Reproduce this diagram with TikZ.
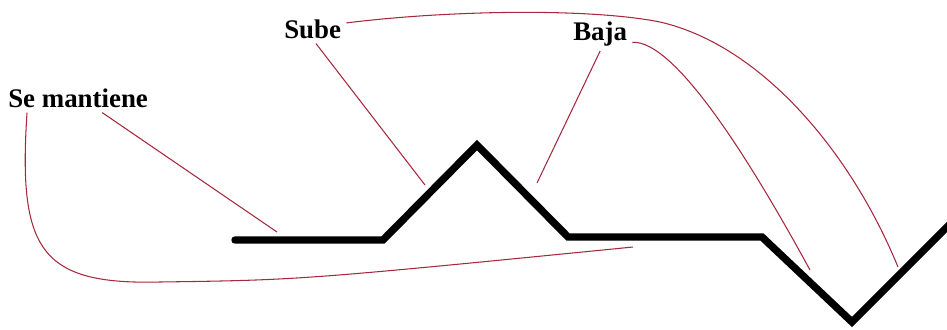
\documentclass[tikz,border=0pt]{standalone}
\usepackage{fontspec}
\setmainfont{Liberation Serif}
\usepackage{tikz}
\usetikzlibrary{calc}
\usepackage{xcolor}
\definecolor{callout}{RGB}{165,40,60}

\begin{document}
\begin{tikzpicture}[x=0.02cm, y=-0.02cm,
  trend/.style={line width=4.2pt, line join=miter, line cap=round},
  pointer/.style={callout, line width=0.6pt},
  tag/.style={inner sep=2.8pt, anchor=base west, font=\bfseries\fontsize{15.3}{17}\selectfont}]
  \useasboundingbox (0,0) rectangle (947,329);
  \clip (0,0) rectangle (947,329);

  \draw[trend] (235,240) -- (383,240) -- (477,145) -- (568,237) -- (762,237)
    -- (852,322) -- (960,214);

  \node[tag] (mant) at (3,107) {Se mantiene};
  \node[tag] (sube) at (279,38) {Sube};
  \node[tag] (baja) at (568,40) {Baja};

  \coordinate (flat1) at (277,232);
  \coordinate (up1) at (425,185);
  \coordinate (down1) at (537,183);
  \coordinate (flat2) at (633,247);
  \coordinate (down2) at (810,270);
  \coordinate (up2) at (898,267);

  \draw[pointer] ($(mant.south west)!0.66!(mant.south east)$) -- (flat1);
  \draw[pointer] ($(mant.south west)!0.16!(mant.south east)$)
    .. controls (18,250) and (40,285) .. (160,282)
    .. controls (300,280) .. (flat2);
  \draw[pointer] ($(sube.south west)!0.55!(sube.south east)$) -- (up1);
  \draw[pointer] ($(sube.north east)!0.3!(sube.south east)$)
    .. controls (450,10) and (590,8) .. (660,22)
    .. controls (760,45) and (850,150) .. (up2);
  \draw[pointer] (baja.south) -- (down1);
  \draw[pointer] ($(baja.north east)!0.75!(baja.south east)$)
    .. controls (675,40) and (750,160) .. (down2);
\end{tikzpicture}
\end{document}
